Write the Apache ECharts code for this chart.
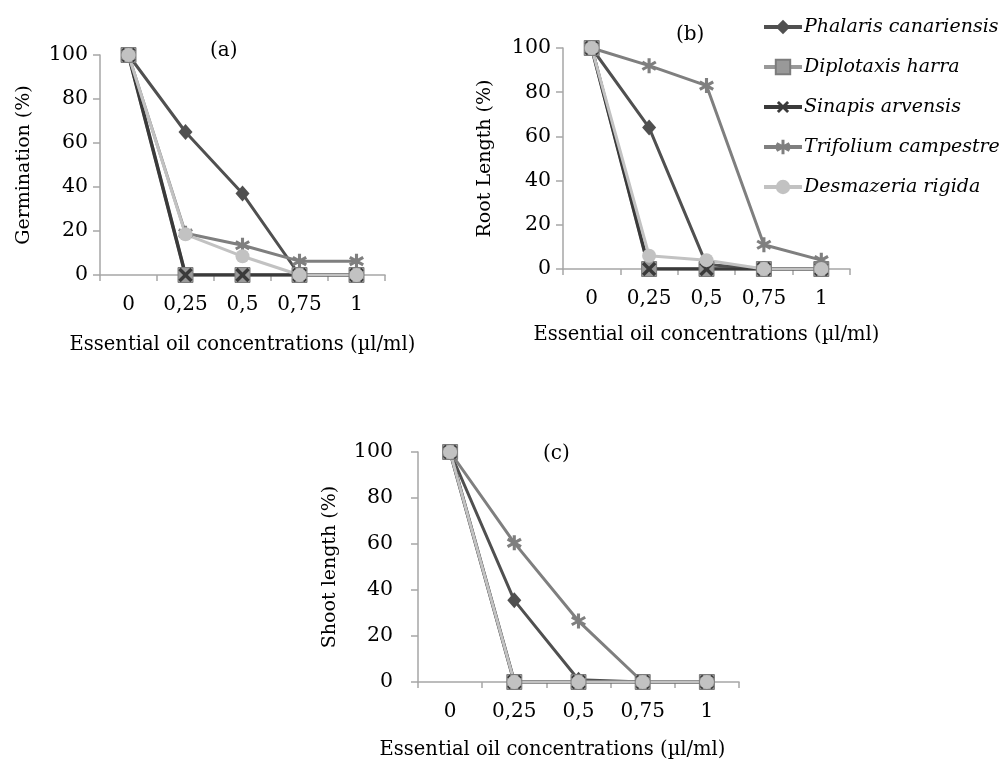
<!DOCTYPE html>
<html>
<head>
<meta charset="utf-8">
<script src="https://cdn.jsdelivr.net/npm/echarts@6/dist/echarts.min.js"></script>
<style>
  html, body { margin: 0; padding: 0; background: #fff; }
  #chart { width: 1001px; height: 762px; }
</style>
</head>
<body>
<div id="chart"></div>
<script>
const categories = ['0', '0,25', '0,5', '0,75', '1']
const species = ['Phalaris canariensis', 'Diplotaxis harra', 'Sinapis arvensis', 'Trifolium campestre', 'Desmazeria rigida']

// (a) germination
const germPhalaris = [100, 65, 37, 0, 0]
const germDiplotaxis = [100, 0, 0, 0, 0]
const germSinapis = [100, 0, 0, 0, 0]
const germTrifolium = [100, 19, 13.5, 6.3, 6.3]
const germDesmazeria = [100, 18.5, 8.5, 0, 0]

// (b) root length
const rootPhalaris = [100, 64, 2, 0, 0]
const rootDiplotaxis = [100, 0, 0, 0, 0]
const rootSinapis = [100, 0, 0, 0, 0]
const rootTrifolium = [100, 92, 83, 11, 4]
const rootDesmazeria = [100, 6, 4, 0, 0]

// (c) shoot length
const shootPhalaris = [100, 35.5, 1, 0, 0]
const shootDiplotaxis = [100, 0, 0, 0, 0]
const shootSinapis = [100, 0, 0, 0, 0]
const shootTrifolium = [100, 60.5, 26.5, 0, 0]
const shootDesmazeria = [100, 0, 0, 0, 0]

const font = 'DejaVu Serif'
const axisGray = '#a6a6a6'

// plus rotated 45deg = X
const crossPath = 'path://M4,0L6,0L6,4L10,4L10,6L6,6L6,10L4,10L4,6L0,6L0,4L4,4Z'
const starPath = 'path://M4,0L6,0L6,10L4,10Z' +
  'M0.17,3.37L1.17,1.63L9.83,6.63L8.83,8.37Z' +
  'M8.83,1.63L9.83,3.37L1.17,8.37L0.17,6.63Z'

const styles = [
  { color: '#505050', symbol: 'diamond', symbolSize: [14, 16], width: 3 },
  { color: '#999999', symbol: 'rect', symbolSize: 15, width: 3, border: '#7c7c7c' },
  { color: '#3a3a3a', symbol: crossPath, symbolSize: 17, symbolRotate: 45, width: 3.5 },
  { color: '#7f7f7f', symbol: starPath, symbolSize: 15, width: 3 },
  { color: '#c2c2c2', symbol: 'circle', symbolSize: 14, width: 3 }
]

const panels = [
  [germPhalaris, germDiplotaxis, germSinapis, germTrifolium, germDesmazeria],
  [rootPhalaris, rootDiplotaxis, rootSinapis, rootTrifolium, rootDesmazeria],
  [shootPhalaris, shootDiplotaxis, shootSinapis, shootTrifolium, shootDesmazeria]
]

function makeX(gridIndex, nameGap, namePadding) {
  return {
    type: 'category',
    gridIndex,
    data: categories,
    boundaryGap: true,
    name: 'Essential oil concentrations (µl/ml)',
    nameLocation: 'middle',
    nameGap,
    nameTextStyle: { fontFamily: font, fontSize: 19.5, color: '#000', padding: namePadding },
    axisLine: { lineStyle: { color: axisGray, width: 1.5 } },
    axisTick: { show: true, length: 6, lineStyle: { color: axisGray, width: 1.5 } },
    axisLabel: { interval: 0, hideOverlap: false, fontFamily: font, fontSize: 20, color: '#000', margin: 20 }
  }
}

function makeY(gridIndex, name, nameGap, margin) {
  return {
    type: 'value',
    gridIndex,
    min: 0,
    max: 100,
    interval: 20,
    name,
    nameLocation: 'middle',
    nameRotate: 90,
    nameGap,
    nameTextStyle: { fontFamily: font, fontSize: 19, color: '#000' },
    axisLine: { show: true, lineStyle: { color: axisGray, width: 1.5 } },
    axisTick: { show: true, length: 7, lineStyle: { color: axisGray, width: 1.5 } },
    splitLine: { show: false },
    axisLabel: { fontFamily: font, fontSize: 20.5, color: '#000', margin }
  }
}

const series = []
panels.forEach((panel, p) => {
  panel.forEach((values, i) => {
    const s = styles[i]
    series.push({
      name: species[i],
      type: 'line',
      xAxisIndex: p,
      yAxisIndex: p,
      data: values,
      symbol: s.symbol,
      symbolSize: s.symbolSize,
      symbolRotate: s.symbolRotate || 0,
      showAllSymbol: true,
      animation: false,
      lineStyle: { color: s.color, width: s.width },
      itemStyle: {
        color: s.color,
        borderColor: s.border || s.color,
        borderWidth: s.border ? 1 : 0
      }
    })
  })
})

const titleStyle = { fontFamily: font, fontSize: 20, fontWeight: 'normal', color: '#000' }

const chart = echarts.init(document.getElementById('chart'))
chart.setOption({
  backgroundColor: '#fff',
  animation: false,
  title: [
    { text: '(a)', left: 205, top: 36, textStyle: titleStyle },
    { text: '(b)', left: 671, top: 20, textStyle: titleStyle },
    { text: '(c)', left: 538, top: 439, textStyle: titleStyle }
  ],
  legend: {
    orient: 'vertical',
    left: 757,
    top: 11,
    itemWidth: 38,
    itemHeight: 18,
    itemGap: 18,
    data: species,
    lineStyle: { width: 4 },
    textStyle: { fontFamily: font, fontStyle: 'italic', fontSize: 19, color: '#000', lineHeight: 22, padding: [0, 0, 0, -3] }
  },
  grid: [
    { left: 100, top: 55, width: 285, height: 220 },
    { left: 563, top: 48, width: 287, height: 221 },
    { left: 418, top: 452, width: 321, height: 230 }
  ],
  xAxis: [
    makeX(0, 60),
    makeX(1, 56),
    makeX(2, 58, [0, 52, 0, 0])
  ],
  yAxis: [
    makeY(0, 'Germination (%)', 66, 12),
    makeY(1, 'Root Length (%)', 68, 12),
    makeY(2, 'Shoot length (%)', 78, 25)
  ],
  series
})
</script>
</body>
</html>
